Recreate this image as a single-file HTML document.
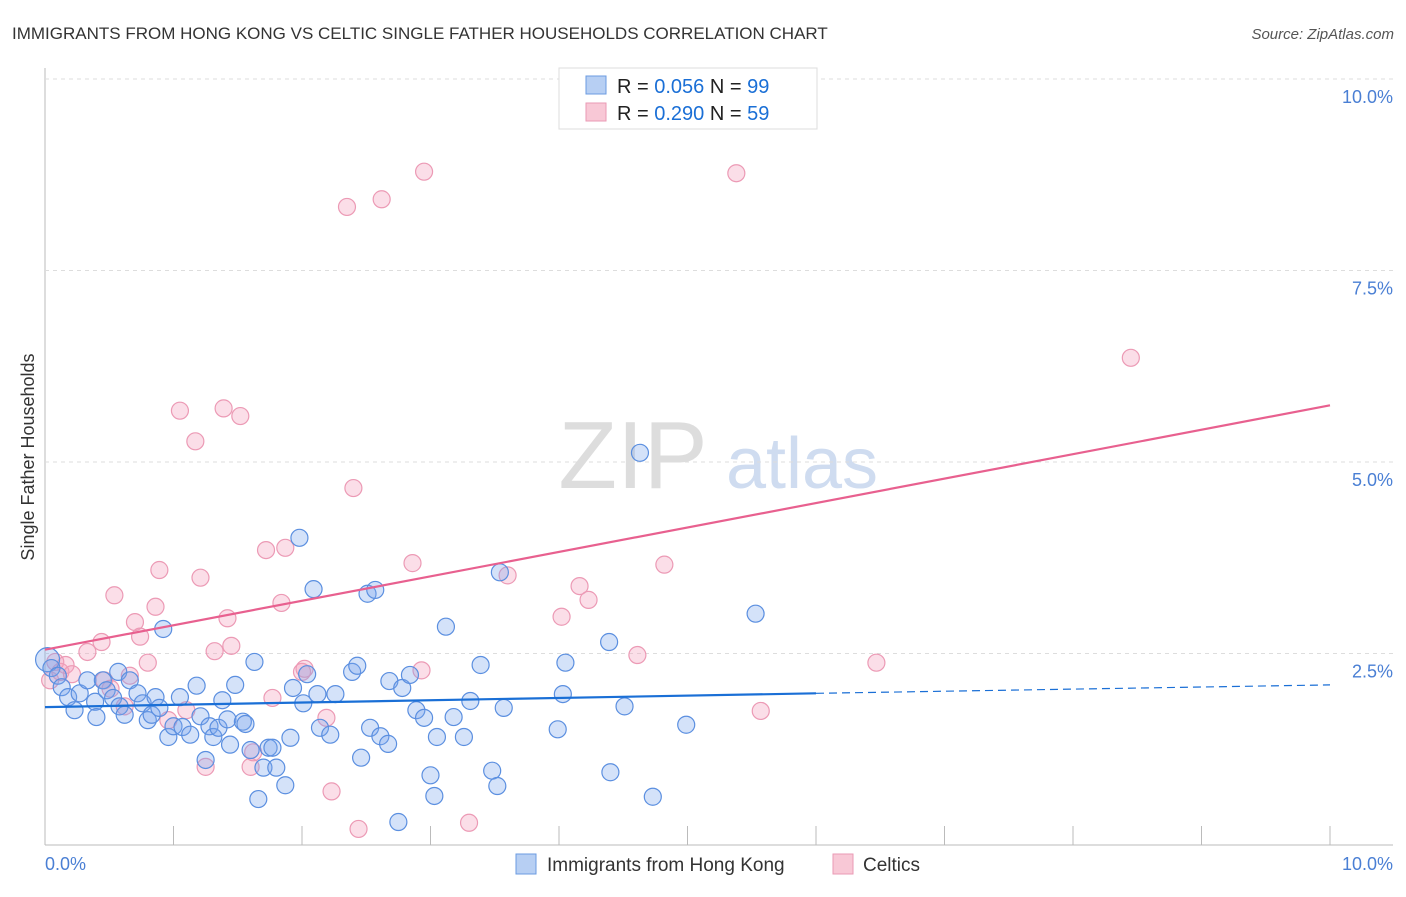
<!DOCTYPE html>
<html><head><meta charset="utf-8"><style>
body{margin:0;background:#fff;font-family:"Liberation Sans",sans-serif}
svg text{font-family:"Liberation Sans",sans-serif}
</style></head><body>
<svg id="c" width="1406" height="892" xmlns="http://www.w3.org/2000/svg">
<text x="12" y="39" font-size="17" fill="#333">IMMIGRANTS FROM HONG KONG VS CELTIC SINGLE FATHER HOUSEHOLDS CORRELATION CHART</text>
<text x="1394" y="39" font-size="15" fill="#555" font-style="italic" text-anchor="end">Source: ZipAtlas.com</text>
<text x="633" y="488" font-size="96" fill="#ddd" font-family="Liberation Serif" text-anchor="middle">ZIP</text>
<text x="802" y="488" font-size="72" fill="#cfdcf0" text-anchor="middle">atlas</text>
<text transform="translate(34,457) rotate(-90)" font-size="18" fill="#333" text-anchor="middle">Single Father Households</text>
<g id="grid"></g><g id="pts"></g><g id="lines"></g>
<g>
<rect x="559" y="68" width="258" height="61" fill="#fff" stroke="#ddd"/>
<rect x="586" y="76" width="20" height="18" fill="#b7cff3" stroke="#6b9be0"/>
<rect x="586" y="103" width="20" height="18" fill="#f8c8d6" stroke="#ea9ab4"/>
<text x="617" y="93" font-size="20" fill="#222">R = <tspan fill="#1a6fd6">0.056</tspan>   N = <tspan fill="#1a6fd6">99</tspan></text>
<text x="617" y="120" font-size="20" fill="#222">R = <tspan fill="#1a6fd6">0.290</tspan>   N = <tspan fill="#1a6fd6">59</tspan></text>
</g>
<g>
<rect x="516" y="854" width="20" height="20" fill="#b7cff3" stroke="#6b9be0"/>
<text x="547" y="871" font-size="19" fill="#333">Immigrants from Hong Kong</text>
<rect x="833" y="854" width="20" height="20" fill="#f8c8d6" stroke="#ea9ab4"/>
<text x="863" y="871" font-size="19" fill="#333">Celtics</text>
</g>
</svg>
<script>
const yTicks=[2.5,5,7.5,10];
const yTickLabels=["2.5%","5.0%","7.5%","10.0%"];
const xTickLabels=["0.0%","10.0%"];
const hkX=[0.02,0.05,0.10,0.13,0.18,0.23,0.27,0.33,0.39,0.40,0.45,0.48,0.53,0.57,0.58,0.62,0.66,0.72,0.76,0.80,0.83,0.86,0.89,0.92,0.96,1.00,1.05,1.07,1.13,1.18,1.21,1.25,1.28,1.31,1.35,1.38,1.42,1.44,1.48,1.54,1.56,1.60,1.63,1.66,1.70,1.74,1.77,1.80,1.87,1.91,1.93,1.98,2.01,2.04,2.09,2.12,2.14,2.22,2.26,2.39,2.43,2.46,2.51,2.53,2.57,2.61,2.67,2.68,2.75,2.78,2.84,2.89,2.95,3.00,3.03,3.05,3.12,3.18,3.26,3.31,3.39,3.48,3.52,3.54,3.57,3.99,4.03,4.05,4.39,4.40,4.51,4.63,4.73,4.99,5.53];
const hkY=[2.42,2.31,2.21,2.06,1.93,1.76,1.98,2.15,1.87,1.67,2.15,2.02,1.92,2.26,1.81,1.70,2.15,1.98,1.85,1.63,1.70,1.93,1.79,2.82,1.41,1.55,1.93,1.54,1.44,2.08,1.68,1.11,1.55,1.41,1.53,1.89,1.64,1.31,2.09,1.61,1.58,1.24,2.39,0.60,1.01,1.27,1.27,1.01,0.78,1.40,2.05,4.01,1.85,2.23,3.34,1.97,1.53,1.44,1.97,2.26,2.34,1.14,3.28,1.53,3.33,1.42,1.32,2.14,0.30,2.05,2.22,1.76,1.66,0.91,0.64,1.41,2.85,1.67,1.41,1.88,2.35,0.97,0.77,3.56,1.79,1.51,1.97,2.38,2.65,0.95,1.81,5.12,0.63,1.57,3.02];
const ceX=[0.04,0.08,0.12,0.16,0.21,0.33,0.44,0.46,0.51,0.54,0.62,0.66,0.70,0.74,0.80,0.86,0.89,0.96,1.05,1.10,1.17,1.21,1.25,1.32,1.39,1.42,1.45,1.52,1.60,1.62,1.72,1.77,1.84,1.87,2.00,2.02,2.19,2.23,2.35,2.40,2.44,2.62,2.86,2.93,2.95,3.30,3.60,4.02,4.16,4.23,4.61,4.82,5.38,5.57,6.47,8.45];
const ceY=[2.15,2.39,2.26,2.35,2.23,2.52,2.65,2.15,2.04,3.26,1.81,2.21,2.91,2.72,2.38,3.11,3.59,1.63,5.67,1.76,5.27,3.49,1.02,2.53,5.70,2.96,2.60,5.60,1.02,1.21,3.85,1.92,3.16,3.88,2.26,2.30,1.66,0.70,8.33,4.66,0.21,8.43,3.68,2.28,8.79,0.29,3.52,2.98,3.38,3.20,2.48,3.66,8.77,1.75,2.38,6.36];
const hkTrend=[1.80,1.98,2.09]; // at x=0, 6, 10
const ceTrend=[2.55,5.74];      // at x=0, 10
const X=v=>45+v*128.5, Y=v=>845-v*76.6;
const NS="http://www.w3.org/2000/svg";
function mk(tag,attrs,parent){const e=document.createElementNS(NS,tag);for(const k in attrs)e.setAttribute(k,attrs[k]);parent.appendChild(e);return e;}
const grid=document.getElementById('grid');
let ax=mk('line',{x1:45,y1:68,x2:45,y2:845,stroke:'#bbb'},grid);


let bx=mk('line',{x1:45,y1:845,x2:1393,y2:845,stroke:'#bbb'},grid);


yTicks.forEach((t,i)=>{
 let g=mk('line',{x1:45,x2:1393,y1:Y(t),y2:Y(t),stroke:'#ddd','stroke-dasharray':'4,4'},grid);
 
 
 let tx=mk('text',{x:1393,y:Y(t)+24,'font-size':18,fill:'#4a7fd4','text-anchor':'end'},grid);
 tx.textContent=yTickLabels[i];
 
 
});
for(let i=1;i<=10;i++){
 let t=mk('line',{x1:X(i),x2:X(i),y1:826,y2:845,stroke:'#bbb'},grid);
 
 
}
[[0,'start',45],[10,'end',1393]].forEach((a,i)=>{
 let tx=mk('text',{x:a[2],y:870,'font-size':18,fill:'#4a7fd4','text-anchor':a[1]},grid);
 tx.textContent=xTickLabels[i];
 
 
});
const pts=document.getElementById('pts');
ceX.forEach((x,i)=>{
 let c=mk('circle',{cx:X(x),cy:Y(ceY[i]),r:8.5,fill:'rgba(244,160,188,0.35)',stroke:'#ec9ab5','stroke-width':1.2},pts);
 
 
});
hkX.forEach((x,i)=>{
 let c=mk('circle',{cx:X(x),cy:Y(hkY[i]),r:i==0?12:8.5,fill:'rgba(120,165,235,0.32)',stroke:'#5b8fe0','stroke-width':1.2},pts);
 
 
});
const L=document.getElementById('lines');
let l1=mk('line',{x1:X(0),y1:Y(hkTrend[0]),x2:X(6),y2:Y(hkTrend[1]),stroke:'#1a6fd6','stroke-width':2.2},L);


let l2=mk('line',{x1:X(6),y1:Y(hkTrend[1]),x2:X(10),y2:Y(hkTrend[2]),stroke:'#1a6fd6','stroke-width':1.2,'stroke-dasharray':'8,5'},L);


let l3=mk('line',{x1:X(0),y1:Y(ceTrend[0]),x2:X(10),y2:Y(ceTrend[1]),stroke:'#e8608f','stroke-width':2.2},L);


</script>
</body></html>
